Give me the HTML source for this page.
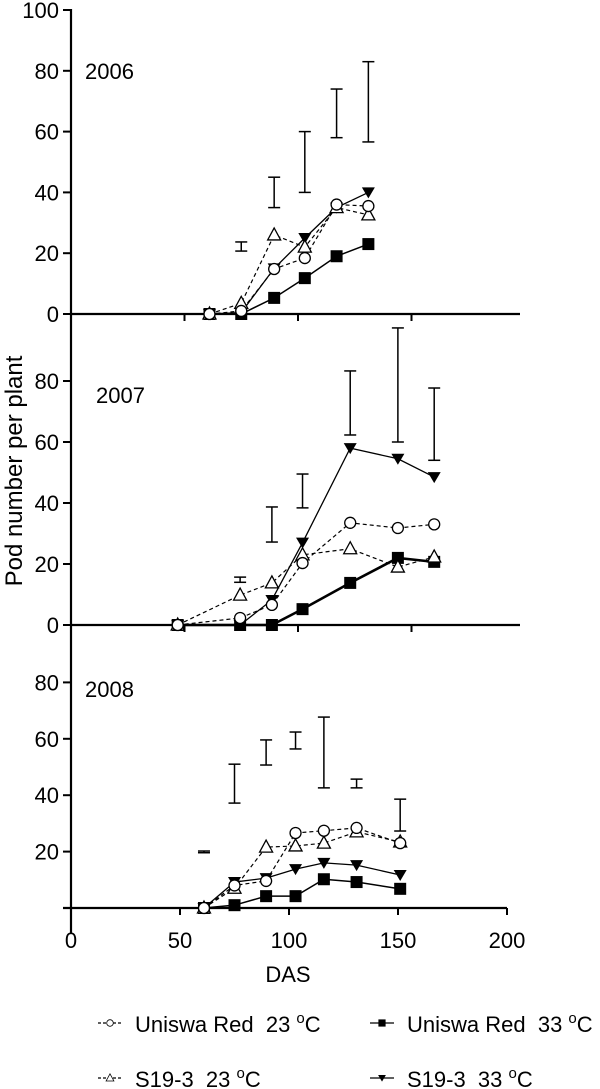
<!DOCTYPE html>
<html><head><meta charset="utf-8"><style>
body{margin:0;background:#fff}
svg{display:block;font-family:"Liberation Sans",Arial,sans-serif}
</style></head><body>
<svg id="chart" width="600" height="1089" viewBox="0 0 600 1089">
<g id="axes"></g>
<g id="marks"></g>
</svg>
<script>
// ---- data ----
const years = ["2006","2007","2008"];
const das2006 = [61,75,89.5,103,117,131];
const uniswa23_2006 = [0,1,14.8,18.4,36,35.5];
const uniswa33_2006 = [0,0,5.3,11.8,19,23];
const s19_23_2006 = [0,3.5,26,22,35,32.6];
const s19_33_2006 = [0,0.5,15,25,35,40];
const errX2006 = [75,89.5,103,117,131];
const errHi2006 = [23.7,45,60,74,83];
const errLo2006 = [20.7,35,40,58,56.6];

const das2007 = [47,74.5,88.5,102,123,144,160];
const uniswa23_2007 = [0,2.3,6.6,20.3,33.5,31.8,33];
const uniswa33_2007 = [0,0,0,5.2,13.8,22,20.7];
const s19_23_2007 = [0,9.8,13.8,23,25,19,22.3];
const s19_33_2007 = [0,0,8.2,27,58,54.5,48.5];
const errX2007 = [74.5,88.5,102,123,144,160];
const errHi2007 = [15.7,38.7,49.5,83.3,97.4,77.7];
const errLo2007 = [14,27.2,38.4,62.3,60,54];

const das2008 = [61,75,89.5,103,116,131,151];
const uniswa23_2008 = [0,8,9.6,26.6,27.4,28.4,23];
const uniswa33_2008 = [0,1,4.2,4.2,10.2,9.2,6.8];
const s19_23_2008 = [0,7,21.6,22,23,27,23.4];
const s19_33_2008 = [0,9.2,10.6,13.8,16,15.2,11.7];
const errX2008 = [61,75,89.5,103,116,131,151];
const errHi2008 = [20.2,51,59.6,62.4,67.7,45.7,38.6];
const errLo2008 = [19.6,37.2,50.7,56.4,42.6,42.6,27.3];

const yTicksTop = [0,20,40,60,80,100];
const yTicksMid = [0,20,40,60,80];
const yTicksBot = [20,40,60,80];
const xTicks = [0,50,100,150,200];

// ---- scales ----
const NS="http://www.w3.org/2000/svg";
const axesG=document.getElementById('axes'), marksG=document.getElementById('marks');
function el(tag,attrs,parent,text){const e=document.createElementNS(NS,tag);for(const k in attrs)e.setAttribute(k,attrs[k]);if(text!==undefined)e.textContent=text;(parent||marksG).appendChild(e);return e;}
const panels=[
 {y0:314,k:3.04,x0:71,kx:2.27,das:das2006,u23:uniswa23_2006,u33:uniswa33_2006,s23:s19_23_2006,s33:s19_33_2006,ex:errX2006,eh:errHi2006,el:errLo2006,ticks:yTicksTop,year:years[0],yx:85,yy:79,xEnd:520,sqW:1.5},
 {y0:625,k:3.05,x0:71,kx:2.27,das:das2007,u23:uniswa23_2007,u33:uniswa33_2007,s23:s19_23_2007,s33:s19_33_2007,ex:errX2007,eh:errHi2007,el:errLo2007,ticks:yTicksMid,year:years[1],yx:96,yy:403,xEnd:520,sqW:2.6},
 {y0:908,k:2.82,x0:71,kx:2.18,das:das2008,u23:uniswa23_2008,u33:uniswa33_2008,s23:s19_23_2008,s33:s19_33_2008,ex:errX2008,eh:errHi2008,el:errLo2008,ticks:yTicksBot,year:years[2],yx:85,yy:697,xEnd:507,sqW:1.5}
];
const ya=el('line',{x1:71,y1:9,x2:71,y2:934,stroke:'#000','stroke-width':2.2},axesG);



panels.forEach((p,pi)=>{
  const X=v=>p.x0+v*p.kx, Y=v=>p.y0-v*p.k;
  const xl=el('line',{x1:pi==2?63:71,y1:p.y0,x2:p.xEnd,y2:p.y0,stroke:'#000','stroke-width':2.2},axesG);
  
  
  xTicks.forEach(t=>{ if(pi<2 && t==200) return;
    const tk=el('line',{x1:X(t),y1:p.y0,x2:X(t),y2:p.y0+7,stroke:'#000','stroke-width':2},axesG);
    
    
    if(pi==2){const tl=el('text',{x:X(t),y:p.y0+40,'text-anchor':'middle','font-size':22},axesG,String(t));
      
      }
  });
  p.ticks.forEach(t=>{
    const tk=el('line',{x1:63,y1:Y(t),x2:71,y2:Y(t),stroke:'#000','stroke-width':2},axesG);
    
    
    const tl=el('text',{x:59,y:Y(t)+8,'text-anchor':'end','font-size':22},axesG,String(t));
    
    
  });
  const yr=el('text',{x:p.yx,y:p.yy,'font-size':22},axesG,p.year);
  
  
  p.ex.forEach((d,i)=>{
    const x=X(d),y1=Y(p.eh[i]),y2=Y(p.el[i]);
    const g=el('g',{stroke:'#000','stroke-width':1.5});
    
    
    el('line',{x1:x,y1:y1,x2:x,y2:y2},g);
    el('line',{x1:x-6,y1:y1,x2:x+6,y2:y1},g);
    el('line',{x1:x-6,y1:y2,x2:x+6,y2:y2},g);
  });
  const series=[
    {v:p.u33,dash:null,w:p.sqW,m:'sq',n:'uniswa-red-33'},
    {v:p.s33,dash:null,w:1.3,m:'tdown',n:'s19-3-33'},
    {v:p.s23,dash:'4,3',w:1.2,m:'tup',n:'s19-3-23'},
    {v:p.u23,dash:'4,3',w:1.2,m:'circ',n:'uniswa-red-23'}
  ];
  series.forEach(s=>{
    const pts=p.das.map((d,i)=>X(d)+','+Y(s.v[i])).join(' ');
    const a={points:pts,fill:'none',stroke:'#000','stroke-width':s.w};
    if(s.dash)a['stroke-dasharray']=s.dash;
    const pl=el('polyline',a);
    
    
  });
  series.forEach(s=>{
    p.das.forEach((d,i)=>{
      const m=marker(s.m,X(d),Y(s.v[i]),marksG);
      
      
    });
  });
});
function marker(t,x,y,parent){
  if(t=='sq')return el('rect',{x:x-6,y:y-6,width:12,height:12,fill:'#000'},parent);
  if(t=='circ')return el('circle',{cx:x,cy:y,r:5.5,fill:'#fff',stroke:'#000','stroke-width':1.3},parent);
  if(t=='tup')return el('polygon',{points:`${x},${y-7} ${x-6.5},${y+5} ${x+6.5},${y+5}`,fill:'#fff',stroke:'#000','stroke-width':1.3},parent);
  return el('polygon',{points:`${x},${y+6} ${x-6.5},${y-5} ${x+6.5},${y-5}`,fill:'#000'},parent);
}
const xt=el('text',{x:288,y:982,'text-anchor':'middle','font-size':22},axesG,'DAS');


const yt=el('text',{x:0,y:0,'text-anchor':'middle','font-size':24,transform:'translate(22,471) rotate(-90)'},axesG,'Pod number per plant');


const legendItems=[
 {lx:98,ly:1023,m:'circ',dash:'3,2',label:'Uniswa Red\u00a0\u00a023\u00a0',n:'legend-uniswa-red-23'},
 {lx:370,ly:1023,m:'sq',dash:null,label:'Uniswa Red\u00a0\u00a033\u00a0',n:'legend-uniswa-red-33'},
 {lx:98,ly:1078,m:'tup',dash:'3,2',label:'S19-3\u00a0\u00a023\u00a0',n:'legend-s19-3-23'},
 {lx:370,ly:1078,m:'tdown',dash:null,label:'S19-3\u00a0\u00a033\u00a0',n:'legend-s19-3-33'}
];
legendItems.forEach(it=>{
  const g=el('g',{},axesG);
  
  
  const a={x1:it.lx,y1:it.ly,x2:it.lx+24,y2:it.ly,stroke:'#000','stroke-width':1.2};
  if(it.dash)a['stroke-dasharray']=it.dash;
  el('line',a,g);
  const mk=el('g',{transform:`translate(${it.lx+12},${it.ly}) scale(0.6) translate(${-(it.lx+12)},${-it.ly})`},g);
  marker(it.m,it.lx+12,it.ly,mk);
  const t=el('text',{x:it.lx+37,y:it.ly+9,'font-size':22},g,it.label);
  el('tspan',{dy:-9,'font-size':15},t,'o');
  el('tspan',{dy:9,'font-size':22},t,'C');
});
</script>
</body></html>
